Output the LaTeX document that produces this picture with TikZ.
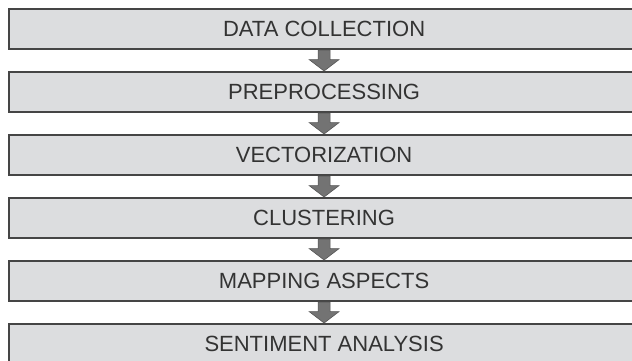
\documentclass[tikz,border=0pt]{standalone}
\usepackage{fontspec}
\setmainfont{Liberation Sans}
\usetikzlibrary{calc}
\definecolor{boxfill}{HTML}{DCDDDF}
\definecolor{boxline}{HTML}{454545}
\definecolor{arrfill}{HTML}{737373}
\definecolor{arrline}{HTML}{555555}
\definecolor{txt}{HTML}{333333}
\tikzset{
  stage/.style={draw=boxline, line width=2.2pt, fill=boxfill, minimum width=630pt,
    minimum height=40pt, inner sep=0pt, font=\fontsize{22}{26}\selectfont, text=txt,
    anchor=north west},
  flow/.style={fill=arrfill, draw=arrline, line width=0.6pt, line join=miter}
}
\newcommand{\flowarrow}[2]{%
  \path[flow] ($(#1.south)+(-6pt,0)$) -- ($(#1.south)+(6pt,0)$) -- ($(#1.south)!0.45!(#2.north)+(6pt,0)$)
   -- ($(#1.south)!0.45!(#2.north)+(15pt,0)$) -- (#2.north) -- ($(#1.south)!0.45!(#2.north)+(-15pt,0)$)
   -- ($(#1.south)!0.45!(#2.north)+(-6pt,0)$) -- cycle;}
\begin{document}
\begin{tikzpicture}[x=1pt,y=1pt]
\fill[white] (0,0) rectangle (632,361);
\useasboundingbox (0,0) rectangle (632,361);
\clip (0,0) rectangle (632,361);
\node[stage] (s1) at (8,353) {DATA COLLECTION};
\node[stage] (s2) at (8,290) {PREPROCESSING};
\node[stage] (s3) at (8,227) {VECTORIZATION};
\node[stage] (s4) at (8,164) {CLUSTERING};
\node[stage] (s5) at (8,101) {MAPPING ASPECTS};
\node[stage] (s6) at (8,38) {SENTIMENT ANALYSIS};
\flowarrow{s1}{s2}
\flowarrow{s2}{s3}
\flowarrow{s3}{s4}
\flowarrow{s4}{s5}
\flowarrow{s5}{s6}
\end{tikzpicture}
\end{document}
